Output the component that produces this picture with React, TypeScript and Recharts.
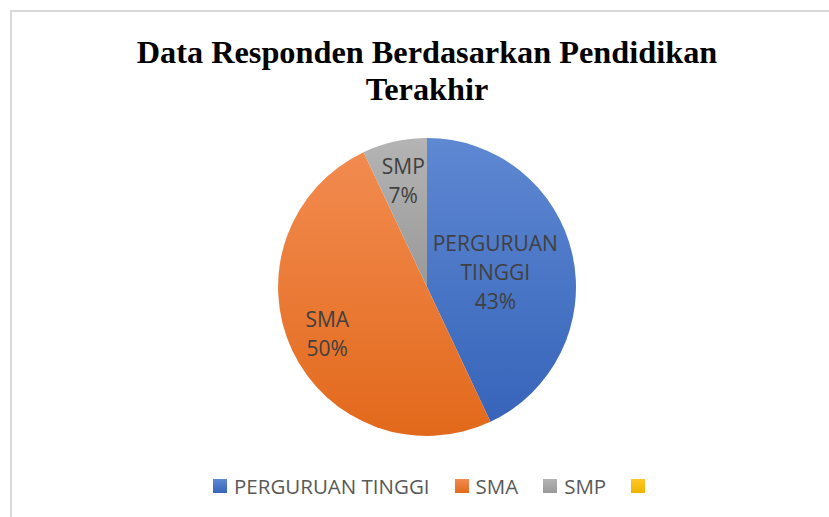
import React from 'react';
import { PieChart, Pie, Cell } from 'recharts';

const categories = ['PERGURUAN TINGGI', 'SMA', 'SMP', ''];
const values = [43, 50, 7, 0];
const labelLines = [['PERGURUAN', 'TINGGI'], ['SMA'], ['SMP'], []];
const labelRadius = [0.47, 0.74, 0.73, 0.7];

const colors = [
    { top: '#5E88D2', bottom: '#3764BA' },
    { top: '#F28B50', bottom: '#E2691B' },
    { top: '#B4B4B4', bottom: '#999999' },
    { top: '#FFC825', bottom: '#F0B400' },
];

const data = categories.map((name, i) => ({ name, value: values[i] }));

const RADIAN = Math.PI / 180;

const renderLabel = (props: any) => {
    const { cx, cy, midAngle, outerRadius, index, value } = props;
    if (!value) return null;
    const r = outerRadius * labelRadius[index];
    const x = cx + r * Math.cos(-midAngle * RADIAN);
    const y = cy + r * Math.sin(-midAngle * RADIAN);
    const lines = [...labelLines[index], `${value}%`];
    const lh = 29;
    const y0 = y - ((lines.length - 1) * lh) / 2;
    return (
        <text
            x={x}
            y={y0}
            textAnchor="middle"
            dominantBaseline="central"
            fill="#404040"
            fontSize={21}
            fontFamily="'Open Sans', sans-serif"
        >
            {lines.map((l, i) => (
                <tspan key={i} x={x} y={y0 + i * lh} dominantBaseline="central">{l}</tspan>
            ))}
        </text>
    );
};

export default function App() {
    return (
        <div style={{ position: 'fixed', left: 0, top: 0, width: 829, height: 517, background: '#fff', overflow: 'hidden' }}>
            <div
                style={{
                    position: 'absolute',
                    left: 10,
                    top: 10,
                    width: 900,
                    height: 600,
                    border: '2px solid #d9d9d9',
                    boxSizing: 'border-box',
                }}
            />
            <div
                style={{
                    position: 'absolute',
                    left: 0,
                    top: 34,
                    width: 854,
                    textAlign: 'center',
                    fontFamily: "'Liberation Serif', 'Times New Roman', serif",
                    fontWeight: 'bold',
                    fontSize: 32.3,
                    lineHeight: '37px',
                    color: '#000',
                }}
            >
                Data Responden Berdasarkan Pendidikan
                <br />
                Terakhir
            </div>
            <div style={{ position: 'absolute', left: 0, top: 0 }}>
                <PieChart width={829} height={517} margin={{ top: 0, right: 0, bottom: 0, left: 0 }}>
                    <defs>
                        {colors.map((c, i) => (
                            <linearGradient key={i} id={`grad-${i}`} x1="0" y1="0" x2="0" y2="1">
                                <stop offset="0%" stopColor={c.top} />
                                <stop offset="100%" stopColor={c.bottom} />
                            </linearGradient>
                        ))}
                    </defs>
                    <Pie
                        data={data}
                        dataKey="value"
                        nameKey="name"
                        cx={427}
                        cy={287}
                        outerRadius={149}
                        startAngle={90}
                        endAngle={-270}
                        stroke="none"
                        label={renderLabel}
                        labelLine={false}
                        isAnimationActive={false}
                    >
                        {data.map((_, i) => (
                            <Cell key={i} fill={`url(#grad-${i})`} />
                        ))}
                    </Pie>
                </PieChart>
            </div>
            <div
                style={{
                    position: 'absolute',
                    left: 213,
                    top: 472,
                    display: 'flex',
                    alignItems: 'center',
                    fontFamily: "'Open Sans', sans-serif",
                    fontSize: 20.5,
                    color: '#595959',
                    whiteSpace: 'nowrap',
                }}
            >
                {categories.map((name, i) => (
                    <div key={i} style={{ display: 'flex', alignItems: 'center', marginRight: 25 }}>
                        <span
                            style={{
                                display: 'inline-block',
                                width: 14,
                                height: 14,
                                background: `linear-gradient(${colors[i].top}, ${colors[i].bottom})`,
                                marginRight: 7,
                            }}
                        />
                        <span>{name}</span>
                    </div>
                ))}
            </div>
        </div>
    );
}
